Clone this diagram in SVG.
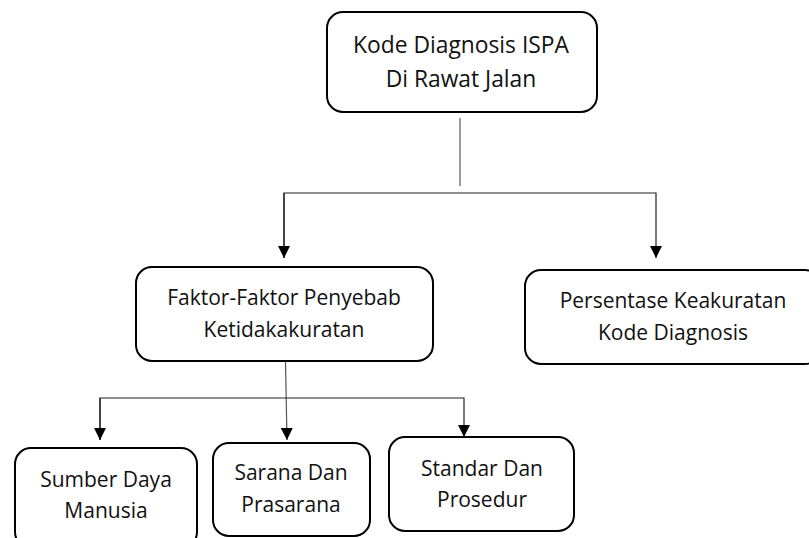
<svg xmlns="http://www.w3.org/2000/svg" width="809" height="538" viewBox="0 0 809 538">
<style>
.box{fill:#fff;stroke:#000;stroke-width:2}
.t{font-family:"Open Sans","Liberation Sans",sans-serif;font-size:21px;fill:#111;text-anchor:middle}
.big{font-size:22.8px}
.c{fill:none;stroke:#222;stroke-width:1.2}
.g{fill:none;stroke:#555;stroke-width:1.2}
</style>
<defs>
<marker id="ah" viewBox="0 0 12 12" markerWidth="12" markerHeight="12" refX="12" refY="6" orient="auto" markerUnits="userSpaceOnUse">
<path d="M0,0 L12,6 L0,12 Z" fill="#000"/>
</marker>
</defs>
<rect width="809" height="538" fill="#fff"/>
<g id="connectors">
<line class="g" x1="460" y1="118" x2="460" y2="186"/>
<polyline class="c" points="284,258 284,193 656,193 656,258" marker-end="url(#ah)"/>
<line class="c" x1="284" y1="193" x2="284" y2="258" marker-end="url(#ah)"/>
<line class="g" x1="285.5" y1="362" x2="287" y2="440" marker-end="url(#ah)"/>
<polyline class="c" points="100,440 100,398 464,398 464,437" marker-end="url(#ah)"/>
<line class="c" x1="100" y1="398" x2="100" y2="440" marker-end="url(#ah)"/>
</g>
<g id="node-kode">
<rect class="box" x="327" y="12" width="270" height="100" rx="16"/>
<text class="t big" x="461" y="53">Kode Diagnosis ISPA</text>
<text class="t big" x="461" y="87">Di Rawat Jalan</text>
</g>
<g id="node-faktor">
<rect class="box" x="136" y="267" width="297" height="94" rx="16"/>
<text class="t" x="284" y="305">Faktor-Faktor Penyebab</text>
<text class="t" x="284" y="337">Ketidakakuratan</text>
</g>
<g id="node-persentase">
<rect class="box" x="525" y="270" width="296" height="94" rx="16"/>
<text class="t" x="673" y="308">Persentase Keakuratan</text>
<text class="t" x="673" y="340">Kode Diagnosis</text>
</g>
<g id="node-sumber">
<rect class="box" x="15" y="448" width="182" height="100" rx="16"/>
<text class="t" x="106" y="487">Sumber Daya</text>
<text class="t" x="106" y="518">Manusia</text>
</g>
<g id="node-sarana">
<rect class="box" x="213" y="443" width="157" height="93" rx="16"/>
<text class="t" x="291" y="480">Sarana Dan</text>
<text class="t" x="291" y="512">Prasarana</text>
</g>
<g id="node-standar">
<rect class="box" x="389" y="437" width="185" height="94" rx="16"/>
<text class="t" x="482" y="476">Standar Dan</text>
<text class="t" x="482" y="507">Prosedur</text>
</g>
</svg>
